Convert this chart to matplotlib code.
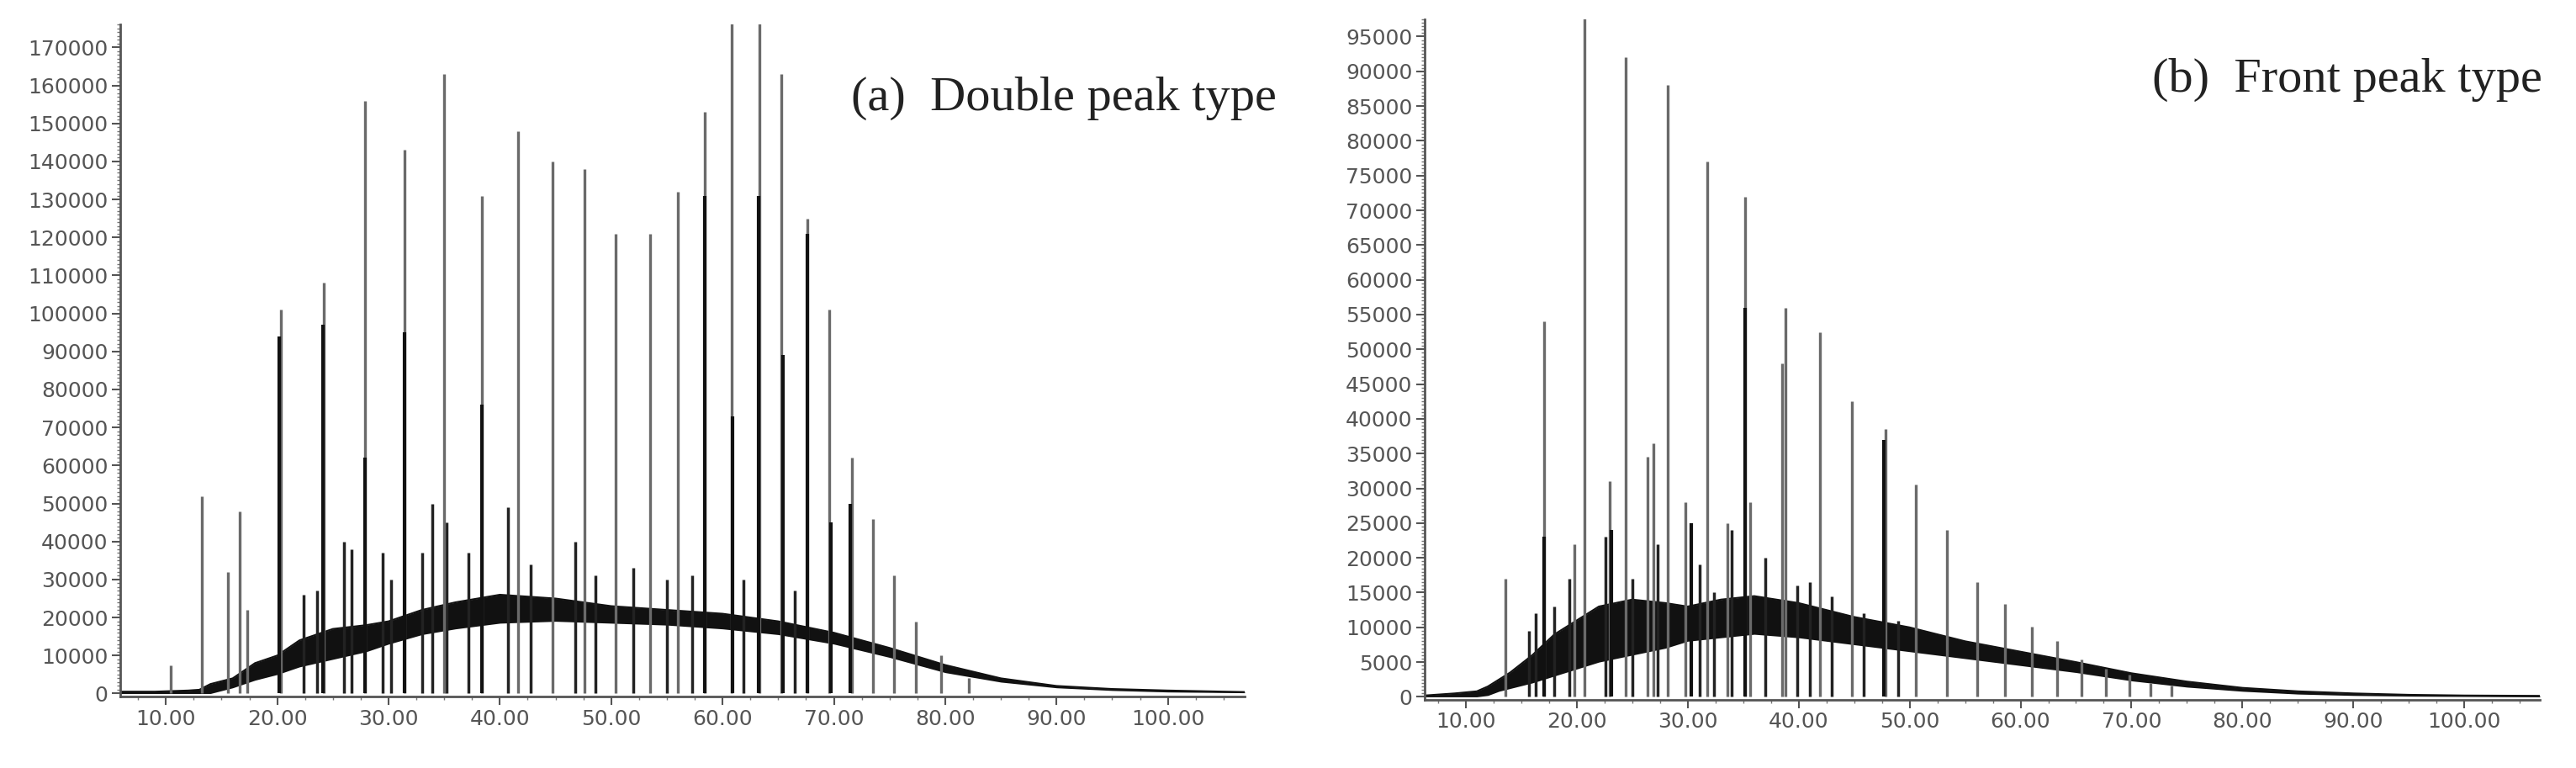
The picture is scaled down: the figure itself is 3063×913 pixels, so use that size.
import numpy as np
import matplotlib
matplotlib.use("Agg")
import matplotlib.pyplot as plt
from matplotlib.ticker import MultipleLocator, FormatStrFormatter

# ---- (a) double peak type ----
a_env_t = [5.9, 9, 12, 13, 14, 16, 18, 20, 22, 25, 28, 30, 33, 36, 40, 45, 50, 55, 60, 65,
           70, 75, 80, 85, 90, 95, 100, 106.9]
a_env_lo = [0, 0, 0, 0, 0, 1500, 3500, 5000, 7000, 9000, 11000, 13000, 15500, 17000, 18500,
            19000, 18500, 18000, 17000, 15500, 13000, 9500, 5500, 3000, 1500, 800, 400, 200]
a_env_hi = [500, 500, 800, 1000, 2500, 4000, 8000, 10000, 14000, 17000, 18000, 19000, 22000,
            24000, 26000, 25000, 23000, 22000, 21000, 19000, 16000, 12000, 7500, 4000, 2000,
            1200, 800, 400]
a_peak_t = [10.4, 13.2, 15.6, 16.6, 17.3, 20.3, 24.2, 27.9, 31.4, 35.0, 38.4, 41.6, 44.7, 47.6,
            50.4, 53.5, 56.0, 58.4, 60.8, 63.3, 65.3, 67.6, 69.6, 71.6, 73.5, 75.4, 77.4,
            79.6, 82.1]
a_peak_h = [7500, 52000, 32000, 48000, 22000, 101000, 108000, 156000, 143000, 163000, 131000,
            148000, 140000, 138000, 121000, 121000, 132000, 153000, 180000, 180000, 163000,
            125000, 101000, 62000, 46000, 31000, 19000, 10000, 4000]
a_core_t = [20.2, 24.1, 27.9, 31.4, 38.4, 58.4, 60.9, 63.2, 65.4, 67.6, 69.7, 71.5]
a_core_h = [94000, 97000, 62000, 95000, 76000, 131000, 73000, 131000, 89000, 121000, 45000, 50000]
a_minor_t = [22.4, 23.6, 26.0, 26.7, 29.5, 30.2, 33.0, 33.9, 35.2, 37.2, 40.7, 42.8, 46.8,
             48.6, 52.0, 55.0, 57.3, 61.9, 66.5]
a_minor_h = [26000, 27000, 40000, 38000, 37000, 30000, 37000, 50000, 45000, 37000, 49000, 34000,
             40000, 31000, 33000, 30000, 31000, 30000, 27000]

# ---- (b) front peak type ----
b_env_t = [6.3, 9, 11, 12, 13, 14, 16, 18, 20, 22, 25, 28, 30, 33, 36, 40, 45, 50, 55, 60, 65,
           70, 75, 80, 85, 90, 95, 100, 106.8]
b_env_lo = [0, 0, 0, 200, 800, 1200, 2000, 3000, 4000, 5000, 6000, 7000, 8000, 8500, 9000,
            8500, 7500, 6500, 5500, 4500, 3500, 2300, 1400, 800, 400, 200, 100, 50, 0]
b_env_hi = [200, 500, 800, 1500, 2500, 3500, 6000, 9000, 11000, 13000, 14000, 13500, 13000,
            14000, 14500, 13500, 11500, 10000, 8000, 6500, 5000, 3400, 2200, 1300, 800, 500,
            300, 200, 150]
b_peak_t = [13.6, 17.1, 19.8, 20.7, 23.0, 24.4, 26.4, 26.9, 28.2, 29.8, 31.8, 33.6, 35.2, 35.6,
            38.5, 38.8, 41.9, 44.8, 47.8, 50.6, 53.4, 56.1, 58.6, 61.0, 63.3, 65.5, 67.7,
            69.8, 71.7, 73.6]
b_peak_h = [17000, 54000, 22000, 98000, 31000, 92000, 34500, 36500, 88000, 28000, 77000, 25000,
            72000, 28000, 48000, 56000, 52500, 42500, 38500, 30500, 24000, 16500, 13400, 10100,
            8000, 5400, 4000, 3200, 2000, 1600]
b_core_t = [17.1, 23.1, 30.3, 35.2, 47.7]
b_core_h = [23000, 24000, 25000, 56000, 37000]
b_minor_t = [15.7, 16.3, 18.0, 19.3, 22.6, 25.0, 27.3, 31.1, 32.4, 34.0, 37.0, 39.9, 41.0, 43.0,
             45.9, 49.0]
b_minor_h = [9500, 12000, 13000, 17000, 23000, 17000, 22000, 19000, 15000, 24000, 20000, 16000,
             16500, 14500, 12000, 11000]

y_ticks_a = np.arange(0, 170001, 10000)
y_ticks_b = np.arange(0, 95001, 5000)
x_ticks = np.arange(10, 101, 10)

fig = plt.figure(figsize=(30.63, 9.13), dpi=100)
ax1 = fig.add_axes([143 / 3063, 0.093, (1480 - 143) / 3063, 0.875])
ax2 = fig.add_axes([1694 / 3063, 0.089, (3020 - 1694) / 3063, 0.886])


def draw(ax, env_t, lo, hi, pk_t, pk_h, core_t, core_h, mn_t, mn_h, xlim, ylim, yticks, ystep):
    ax.fill_between(env_t, lo, hi, color="#111111", lw=0)
    ax.plot(env_t, hi, color="#111111", lw=1.5)
    ax.vlines(mn_t, 0, mn_h, color="#222222", lw=2.5)
    ax.vlines(pk_t, 0, pk_h, color="#6a6a6a", lw=2.4)
    ax.vlines(core_t, 0, core_h, color="#111111", lw=3.0)
    ax.set_xlim(*xlim)
    ax.set_ylim(*ylim)
    ax.set_yticks(yticks)
    ax.set_xticks(x_ticks)
    ax.xaxis.set_minor_locator(MultipleLocator(2.5))
    ax.yaxis.set_minor_locator(MultipleLocator(ystep / 10))
    ax.xaxis.set_major_formatter(FormatStrFormatter("%.2f"))
    for s in ["top", "right"]:
        ax.spines[s].set_visible(False)
    for s in ["left", "bottom"]:
        ax.spines[s].set_color("#555555")
        ax.spines[s].set_linewidth(2)
    ax.tick_params(which="major", length=7, width=1.5, color="#555555",
                   labelcolor="#555555", labelsize=18)
    ax.tick_params(which="minor", length=3, width=1, color="#777777")


draw(ax1, a_env_t, a_env_lo, a_env_hi, a_peak_t, a_peak_h, a_core_t, a_core_h,
     a_minor_t, a_minor_h, (5.9, 106.9), (-800, 176000), y_ticks_a, 10000)
draw(ax2, b_env_t, b_env_lo, b_env_hi, b_peak_t, b_peak_h, b_core_t, b_core_h,
     b_minor_t, b_minor_h, (6.3, 106.8), (-400, 97500), y_ticks_b, 5000)

fig.text(0.4956, 0.872, "(a)  Double peak type", ha="right", va="center",
         family="Liberation Serif", fontsize=42, color="#222222")
fig.text(0.987, 0.896, "(b)  Front peak type", ha="right", va="center",
         family="Liberation Serif", fontsize=42, color="#222222")

fig.savefig("out.png", dpi=100, facecolor="white")
